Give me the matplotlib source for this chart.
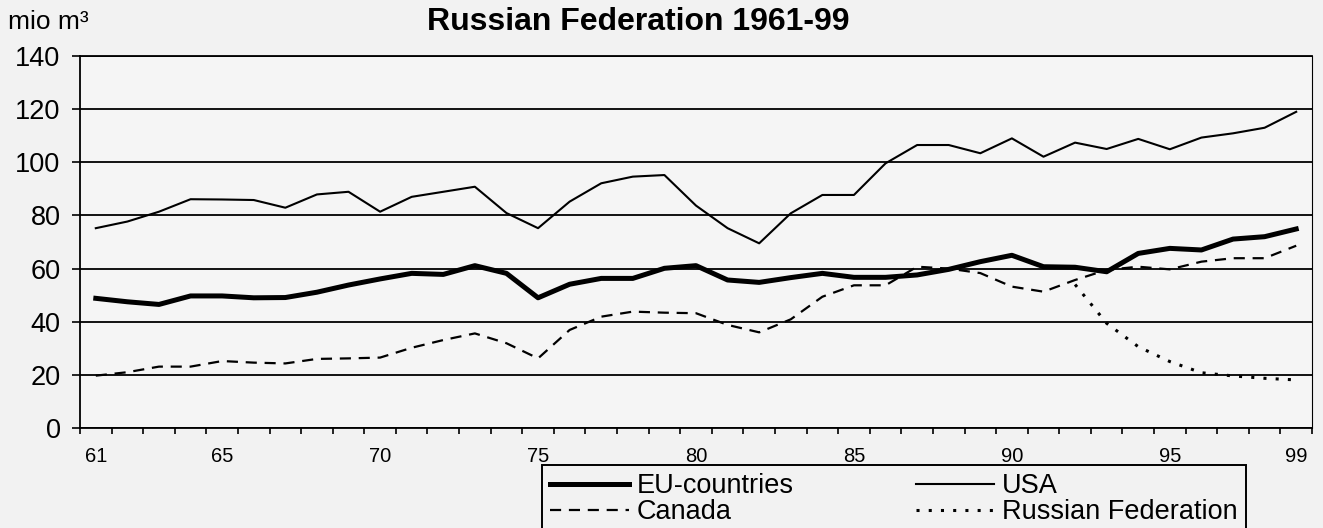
import matplotlib
matplotlib.use("Agg")
import matplotlib.pyplot as plt
import numpy as np

plt.rcParams['font.family'] = ['Liberation Sans', 'DejaVu Sans']

# ---- data ----
years = list(range(61, 100))
eu = [48.8, 47.5, 46.5, 49.7, 49.7, 49.0, 49.1, 51.1, 53.8, 56.1,
      58.2, 57.8, 61.1, 58.2, 49.0, 54.1, 56.3, 56.3, 60.1, 61.1,
      55.7, 54.8, 56.6, 58.2, 56.7, 56.7, 57.6, 59.7, 62.6, 65.0,
      60.7, 60.5, 58.8, 65.7, 67.6, 67.0, 71.1, 72.0, 74.9]
usa = [75.2, 77.7, 81.4, 86.1, 86.0, 85.8, 82.9, 87.9, 88.9, 81.4,
       87.0, 88.9, 90.8, 80.9, 75.2, 85.2, 92.1, 94.6, 95.2, 83.7,
       75.2, 69.5, 80.8, 87.7, 87.7, 99.6, 106.5, 106.5, 103.4, 109.0,
       102.1, 107.4, 105.0, 108.8, 104.9, 109.3, 110.9, 113.0, 119.0]
canada = [19.7, 21.0, 23.1, 23.1, 25.2, 24.6, 24.3, 26.0, 26.2, 26.5,
          30.2, 33.1, 35.6, 31.9, 26.2, 36.9, 41.9, 43.8, 43.4, 43.2,
          38.8, 36.0, 40.9, 49.4, 53.7, 53.7, 60.7, 60.0, 58.3, 53.2,
          51.3, 55.7, 59.5, 60.7, 59.7, 62.6, 63.9, 63.9, 68.6]
rf_years = list(range(92, 100))
russia = [54.0, 39.4, 30.6, 25.0, 20.8, 19.6, 18.7, 18.1]

xtick_years = [61, 65, 70, 75, 80, 85, 90, 95, 99]
xtick_labels = [str(y) for y in xtick_years]
yticks = list(range(0, 141, 20))

title = "Russian Federation 1961-99"
unit = "mio m³"
names = ["EU-countries", "Canada", "USA", "Russian Federation"]

# ---- figure ----
W, H = 1323, 528
bg = '#f2f2f2'
fig = plt.figure(figsize=(W / 100, H / 100), dpi=100, facecolor=bg)
ax = fig.add_axes([80 / W, 1 - 428 / H, (1312 - 80) / W, (428 - 56) / H])
ax.set_facecolor('#f5f5f5')

ax.set_xlim(60.5, 99.5)
ax.set_ylim(0, 140)
ax.set_yticks(yticks)
ax.yaxis.grid(True, color='black', lw=1.3)
ax.set_axisbelow(True)
ax.tick_params(axis='y', direction='out', length=6, width=1.2, labelsize=19.5, pad=8)

ax.set_xticks(xtick_years)
ax.set_xticklabels(xtick_labels)
ax.set_xticks(np.arange(60.5, 100, 1), minor=True)
ax.tick_params(axis='x', which='major', length=0, labelsize=14.5, pad=14)
ax.tick_params(axis='x', which='minor', direction='out', length=4, width=1.2)

for s in ['left', 'bottom', 'top']:
    ax.spines[s].set_linewidth(1.3)
    ax.spines[s].set_color('black')
ax.spines['right'].set_linewidth(0.8)

l_eu, = ax.plot(years, eu, color='black', lw=3.6, solid_joinstyle='round', zorder=4)
l_usa, = ax.plot(years, usa, color='black', lw=1.5, zorder=3)
l_ca, = ax.plot(years, canada, color='black', lw=1.6, dashes=(5, 3.5), zorder=3)
l_rf, = ax.plot(rf_years, russia, color='black', lw=2.2, dashes=(1, 3), zorder=3)

fig.text(638 / W, 1 - 22 / H, title, fontsize=23, fontweight='bold',
         ha='center', va='center')
fig.text(8 / W, 1 - 22 / H, unit, fontsize=19, ha='left', va='center')

leg = fig.legend([l_eu, l_ca, l_usa, l_rf], names, ncol=2,
                 loc='upper left', bbox_to_anchor=(542 / W, 1 - 465 / H),
                 bbox_transform=fig.transFigure, frameon=True, fancybox=False,
                 edgecolor='black', facecolor=bg, framealpha=1, fontsize=19.5,
                 handlelength=2.9, handletextpad=0.3, columnspacing=4.5,
                 labelspacing=0.0, borderpad=0.3, borderaxespad=0)
leg.get_frame().set_linewidth(1.4)

fig.savefig('out.png', dpi=100, facecolor=bg)
